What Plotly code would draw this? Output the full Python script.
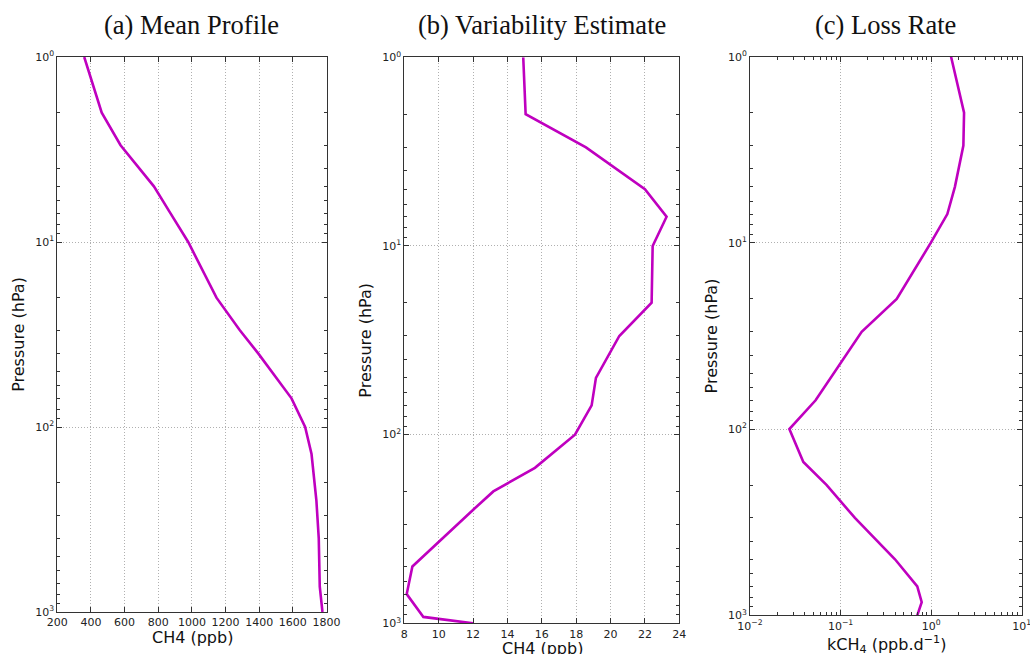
import plotly.graph_objects as go

# ---------------- data ----------------
# (a) Mean profile
p_mean = [1, 2, 3, 5, 7, 10, 20, 30, 40, 70, 100, 140, 250, 400, 730, 1000]
ch4_mean = [360, 464, 576, 774, 873, 978, 1146, 1285, 1394, 1592, 1673, 1711, 1740, 1754, 1760, 1776]

# (b) Variability estimate
p_var = [1, 2, 3, 5, 7, 10, 20, 30, 50, 70, 100, 150, 200, 250, 500, 700, 925, 1000]
ch4_var = [14.92, 15.06, 18.57, 22.0, 23.26, 22.45, 22.39, 20.51, 19.15, 18.90, 17.93,
           15.60, 13.18, 12.01, 8.47, 8.14, 9.11, 12.0]

# (c) Loss rate
p_loss = [1, 2, 3, 5, 7, 10, 20, 30, 70, 100, 150, 200, 300, 500, 700, 850, 1000]
k_loss = [1.66, 2.31, 2.27, 1.83, 1.51, 0.99, 0.417, 0.171, 0.053, 0.0272, 0.0388,
          0.0703, 0.144, 0.399, 0.703, 0.787, 0.703]

titles = ["(a) Mean Profile", "(b) Variability Estimate", "(c) Loss Rate"]
xtitles = ["CH4 (ppb)", "CH4 (ppb)", "kCH<sub>4</sub> (ppb.d<sup>\u22121</sup>)"]
ytitle = "Pressure (hPa)"
y_tickvals = [1, 10, 100, 1000]
y_ticktext = ["10<sup>0</sup>", "10<sup>1</sup>", "10<sup>2</sup>", "10<sup>3</sup>"]
xc_tickvals = [0.01, 0.1, 1, 10]
xc_ticktext = ["10<sup>\u22122</sup>", "10<sup>\u22121</sup>", "10<sup>0</sup>", "10<sup>1</sup>"]

# ---------------- figure ----------------
W, H = 1030, 654
LINE = "#bf00bf"
TICKFONT = dict(family="DejaVu Sans", size=11, color="#222222")
LABFONT = dict(family="DejaVu Sans", size=16, color="#111111")

def dom_x(a, b):
    return [a / W, b / W]

def dom_y(top, bot):
    return [1 - bot / H, 1 - top / H]

def log_minor(e0, e1):
    return [k * 10.0 ** e for e in range(e0, e1) for k in range(2, 10)]

fig = go.Figure()
fig.add_trace(go.Scatter(x=ch4_mean, y=p_mean, mode="lines",
                         line=dict(color=LINE, width=2.6), xaxis="x", yaxis="y"))
fig.add_trace(go.Scatter(x=ch4_var, y=p_var, mode="lines",
                         line=dict(color=LINE, width=2.6), xaxis="x2", yaxis="y2"))
fig.add_trace(go.Scatter(x=k_loss, y=p_loss, mode="lines",
                         line=dict(color=LINE, width=2.6), xaxis="x3", yaxis="y3"))

common = dict(showline=True, linecolor="#333333", linewidth=1, mirror="allticks",
              ticks="inside", ticklen=5, tickcolor="#333333", tickfont=TICKFONT,
              showgrid=True, gridcolor="#b0b0b0", griddash="1px,2px", gridwidth=1,
              zeroline=False, automargin=False, ticklabeloverflow="allow")

ymin = dict(tickmode="array", tickvals=log_minor(0, 3), ticks="inside", ticklen=3,
            tickcolor="#333333", showgrid=False)
xmin = dict(tickmode="array", tickvals=log_minor(-2, 1), ticks="inside", ticklen=3,
            tickcolor="#333333", showgrid=False)

ycommon = dict(common, type="log", range=[3, 0], tickmode="array",
               tickvals=y_tickvals, ticktext=y_ticktext, minor=ymin,
               title=dict(text=ytitle, font=LABFONT, standoff=6))

fig.update_layout(
    width=W, height=H, margin=dict(l=0, r=0, t=0, b=0, autoexpand=False),
    paper_bgcolor="white", plot_bgcolor="white", showlegend=False,
    xaxis=dict(common, domain=dom_x(57.3, 326.5), range=[200, 1800], dtick=200, anchor="y"),
    yaxis=dict(ycommon, domain=dom_y(57, 612), anchor="x"),
    xaxis2=dict(common, domain=dom_x(404.3, 679.3), range=[8, 24], dtick=2, anchor="y2"),
    yaxis2=dict(ycommon, domain=dom_y(57.3, 623.3), anchor="x2"),
    xaxis3=dict(common, domain=dom_x(750, 1021.7), type="log", range=[-2, 1],
                tickmode="array", tickvals=xc_tickvals, ticktext=xc_ticktext,
                anchor="y3", minor=xmin),
    yaxis3=dict(ycommon, domain=dom_y(56.7, 615.3), anchor="x3"),
)

centers = [(57.3 + 326.5) / 2, (404.3 + 679.3) / 2, (750 + 1021.7) / 2]
for t, cx in zip(titles, centers):
    fig.add_annotation(text=t, x=cx / W, y=1 - 25 / H, xref="paper", yref="paper",
                       showarrow=False, xanchor="center", yanchor="middle",
                       font=dict(family="Liberation Serif", size=26.5, color="#111111"))

xt_pos = [(192, 637), (542.5, 648.5), (886, 644)]
for t, (px, py) in zip(xtitles, xt_pos):
    fig.add_annotation(text=t, x=px / W, y=1 - py / H, xref="paper", yref="paper",
                       showarrow=False, xanchor="center", yanchor="middle",
                       font=LABFONT)

fig.write_html("out.html")
